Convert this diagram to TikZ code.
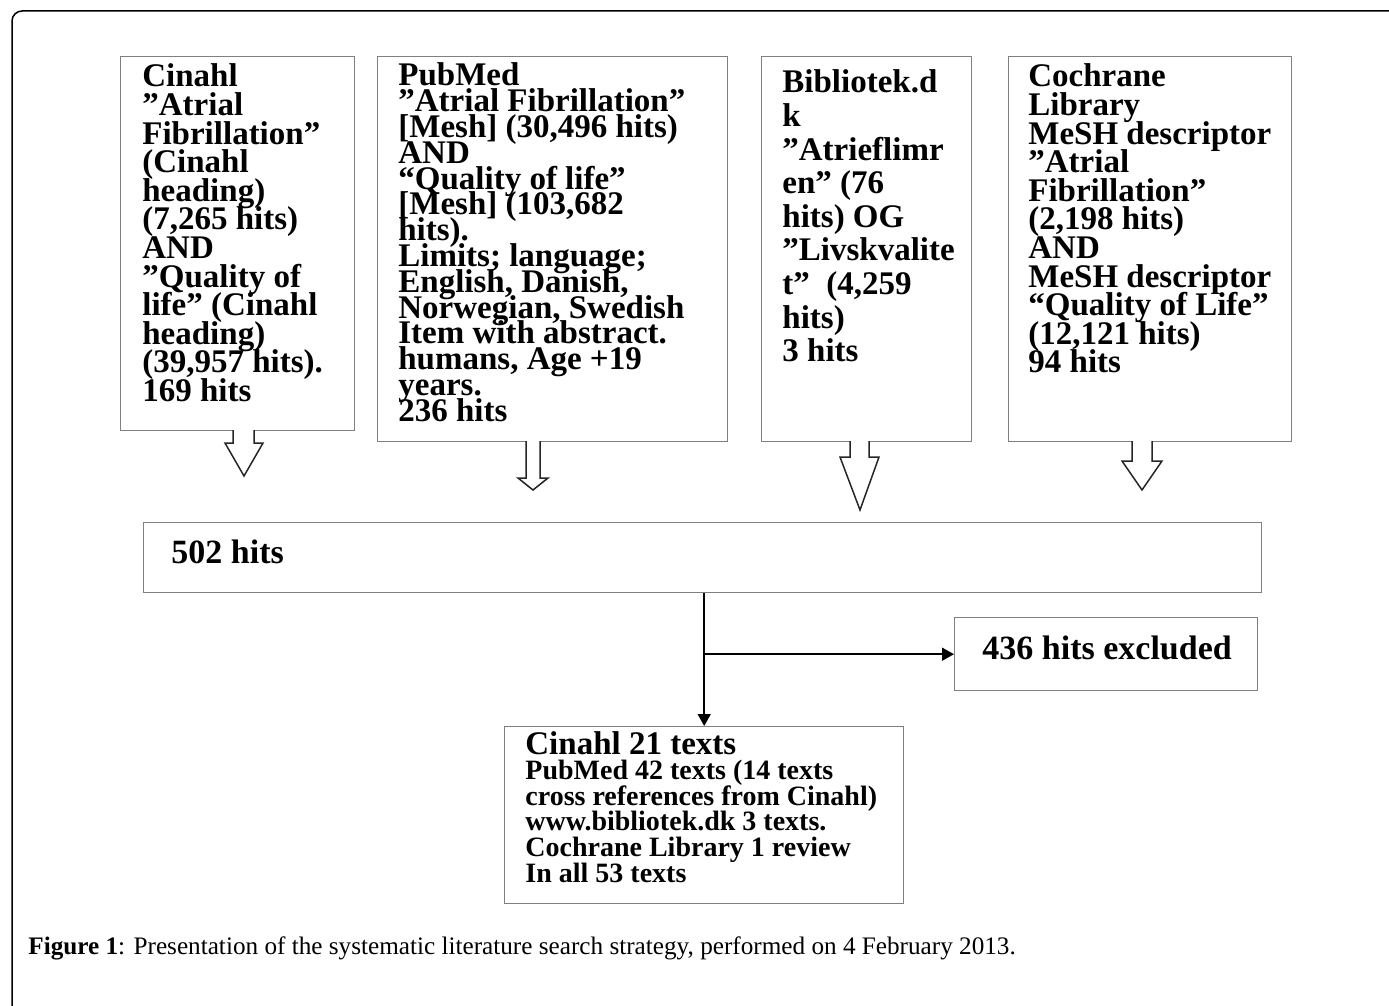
\documentclass[tikz,border=0pt]{standalone}
\usepackage{fontspec}
\setmainfont{Liberation Serif}
\usetikzlibrary{arrows.meta}
\lineskiplimit=-50pt
\tikzset{
  box/.style={draw=black!50, line width=0.7pt, inner sep=0pt, anchor=north west},
  txt/.style={anchor=base west, inner sep=0pt, font=\bfseries},
  blockarrow/.style={draw=black!85, line width=0.75pt, fill=white, line join=miter},
  conn/.style={draw=black, line width=0.75pt, -{Triangle[length=6pt,width=6.5pt]}},
}
\newcommand{\boxfont}{\fontsize{16.5}{14.3}\selectfont\lineskiplimit=-50pt}
\begin{document}
\begin{tikzpicture}[x=0.5pt, y=-0.5pt]
\useasboundingbox (0,0) rectangle (1389,1006);
% outer frame
\draw[line width=0.75pt, rounded corners=5pt] (12,1010) -- (12,11) -- (1395,11);

% boxes
\node[box, minimum width=117pt, minimum height=187pt] (cin) at (120,56) {};
\node[box, minimum width=175pt, minimum height=192.5pt] (pub) at (377,56) {};
\node[box, minimum width=105pt, minimum height=192.5pt] (bib) at (761,56) {};
\node[box, minimum width=141.5pt, minimum height=192.5pt] (coc) at (1008,56) {};
\node[box, minimum width=559pt, minimum height=35pt] (hits) at (143,522) {};
\node[box, minimum width=151.5pt, minimum height=36.5pt] (excl) at (954,617) {};
\node[box, minimum width=199.5pt, minimum height=88.5pt] (final) at (504,726) {};

% texts
\node[txt] (tcin) at (142,87) {\parbox[t]{120pt}{\raggedright\boxfont
Cinahl\\ ”Atrial\\ Fibrillation”\\ (Cinahl\\ heading)\\ (7,265 hits)\\ AND\\ ”Quality of\\ life” (Cinahl\\ heading)\\ (39,957 hits).\\ 169 hits}};
\node[txt] (tpub) at (398,86) {\parbox[t]{170pt}{\raggedright\fontsize{16.5}{12.9}\selectfont\lineskiplimit=-50pt
PubMed\\ ”Atrial Fibrillation”\\ {[}Mesh] (30,496 hits)\\ AND\\ “Quality of life”\\ {[}Mesh] (103,682\\ hits).\\ Limits; language;\\ English, Danish,\\ Norwegian, Swedish\\ Item with abstract.\\ humans, Age +19\\ years.\\ 236 hits}};
\node[txt] (tbib) at (782,93) {\parbox[t]{100pt}{\raggedright\fontsize{16.5}{16.8}\selectfont\lineskiplimit=-50pt
Bibliotek.d\\ k\\ ”Atrieflimr\\ en” (76\\ hits) OG\\ ”Livskvalite\\ t”~~(4,259\\ hits)\\ 3 hits}};
\node[txt] (tcoc) at (1028,87) {\parbox[t]{140pt}{\raggedright\boxfont
Cochrane\\ Library\\ MeSH descriptor\\ ”Atrial\\ Fibrillation”\\ (2,198 hits)\\ AND\\ MeSH descriptor\\ “Quality of Life”\\ (12,121 hits)\\ 94 hits}};
\node[txt, font=\bfseries\fontsize{17}{20}\selectfont] (thits) at (171,563) {502 hits};
\node[txt, font=\bfseries\fontsize{17}{20}\selectfont] (texcl) at (982,659) {436 hits excluded};
\node[txt] (tfinal) at (525,754) {\parbox[t]{195pt}{\raggedright\lineskiplimit=-50pt
{\fontsize{16.5}{14}\selectfont Cinahl 21 texts}\\ \fontsize{14}{12.8}\selectfont
PubMed 42 texts (14 texts\\ cross references from Cinahl)\\ www.bibliotek.dk 3 texts.\\ Cochrane Library 1 review\\ In all 53 texts}};

% caption
\node[anchor=base west, inner sep=0pt, font=\fontsize{12.6}{16}\selectfont] (cap) at (28,954)
  {\textbf{Figure 1}: Presentation of the systematic literature search strategy, performed on 4 February 2013.};

% block arrows (hollow)
\draw[blockarrow] (233,430) -- (233,443) -- (225,443) -- (244,476) -- (263,443) -- (254,443) -- (254,430);
\draw[blockarrow] (526,441) -- (526,478) -- (518,478) -- (533,490) -- (548,478) -- (540,478) -- (540,441);
\draw[blockarrow] (850,441) -- (850,457) -- (840,457) -- (860,510) -- (879,457) -- (869,457) -- (869,441);
\draw[blockarrow] (1132,441) -- (1132,461) -- (1122,461) -- (1142,490) -- (1162,461) -- (1152,461) -- (1152,441);

% connectors
\draw[conn] (hits.south -| final.north) -- (final.north);
\coordinate (branch) at (final.north |- excl.west);
\draw[conn] (branch) -- (excl.west);
\end{tikzpicture}
\end{document}
